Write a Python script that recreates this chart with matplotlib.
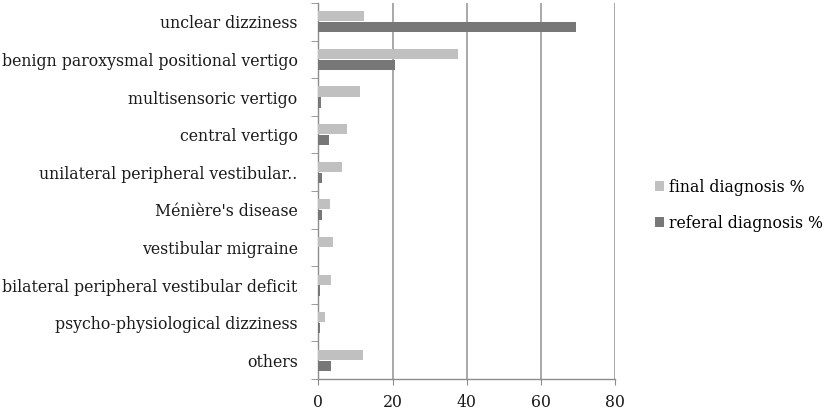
"""Final vs referral diagnosis shares, horizontal grouped bars."""

import matplotlib

matplotlib.use("Agg")
import matplotlib.pyplot as plt
import numpy as np

categories = [
    "unclear dizziness",
    "benign paroxysmal positional vertigo",
    "multisensoric vertigo",
    "central vertigo",
    "unilateral peripheral vestibular..",
    "Ménière's disease",
    "vestibular migraine",
    "bilateral peripheral vestibular deficit",
    "psycho-physiological dizziness",
    "others",
]
final_pct = [12.4, 37.7, 11.3, 7.8, 6.4, 3.0, 4.0, 3.3, 1.8, 12.1]
referral_pct = [69.4, 20.7, 0.7, 2.9, 1.1, 1.1, 0.0, 0.4, 0.4, 3.3]
x_ticks = [0, 20, 40, 60, 80]

plt.rcParams["font.family"] = ["DejaVu Serif"]

fig = plt.figure(figsize=(8.27, 4.12), dpi=100)
ax = fig.add_axes([0.385, 0.080, 0.3587, 0.9127])

y = np.arange(len(categories))
h = 0.27
off = 0.145
ax.barh(y - off, final_pct, height=h, color="#c0c0c0", label="final diagnosis %", zorder=3)
ax.barh(y + off, referral_pct, height=h, color="#777777", label="referal diagnosis %", zorder=3)

ax.set_ylim(len(categories) - 0.5, -0.5)
ax.set_xlim(0, 80)
ax.set_xticks(x_ticks)
ax.set_yticks(y)
ax.set_yticklabels(categories)
ax.set_yticks(np.arange(len(categories) + 1) - 0.5, minor=True)

ax.grid(axis="x", color="#9a9a9a", linewidth=1.2, zorder=0)
ax.tick_params(axis="y", which="major", length=0, pad=15, labelsize=11.3, colors="#1a1a1a")
ax.tick_params(axis="y", which="minor", length=5, color="#8c8c8c")
ax.tick_params(axis="x", length=4, color="#8c8c8c", pad=7, labelsize=11.3, labelcolor="#1a1a1a")

for side in ("top", "right"):
    ax.spines[side].set_visible(False)
for side in ("left", "bottom"):
    ax.spines[side].set_color("#8c8c8c")
    ax.spines[side].set_linewidth(1.0)

fig.legend(
    loc="center left",
    bbox_to_anchor=(0.775, 0.502),
    frameon=False,
    fontsize=11.3,
    handlelength=0.6,
    handleheight=0.6,
    handletextpad=0.3,
    labelspacing=1.2,
)

fig.savefig("out.png", dpi=100)
